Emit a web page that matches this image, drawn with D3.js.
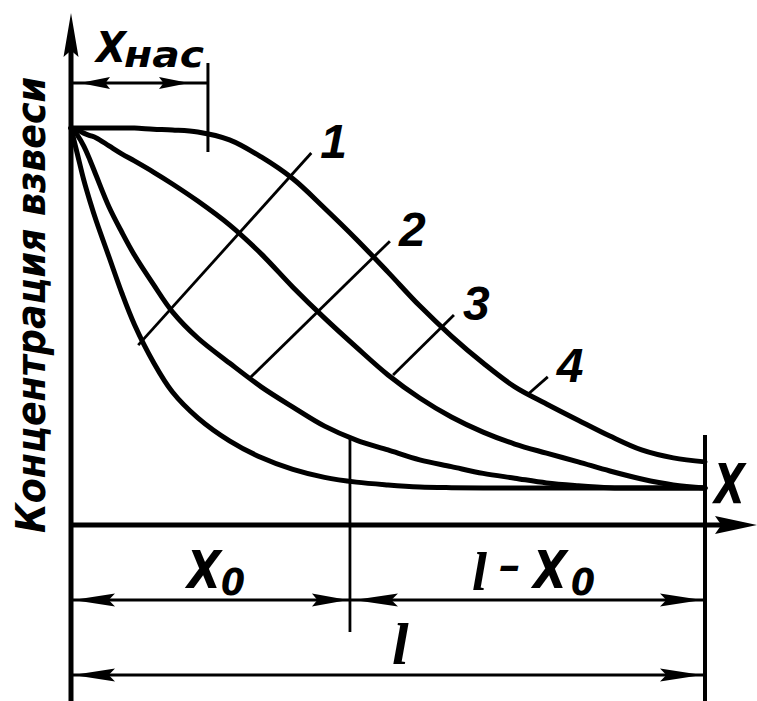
<!DOCTYPE html>
<html lang="ru">
<head>
<meta charset="UTF-8">
<title>Концентрация взвеси</title>
<script src="https://d3js.org/d3.v7.min.js"></script>
<style>
    body { margin: 0; background: #fff; }
    .lbl { font-family: "DejaVu Sans Condensed", "DejaVu Sans", sans-serif; font-weight: bold; font-style: oblique; fill: #000; }
    .num { font-family: "Liberation Sans", Arial, sans-serif; font-style: italic; fill: #000; }
    .ell { font-family: "Liberation Serif", serif; font-weight: bold; font-style: italic; fill: #000; }
</style>
</head>
<body>
<script>
    // x in % of l, concentration in % of the initial value
    const xGrid = [0, 1, 2, 3, 4, 6, 8, 10, 13, 16, 20, 25, 30, 35, 40, 45, 50, 55, 60, 65, 70, 75, 80, 85, 90, 95, 100];
    const concA = [100, 100, 100, 100, 100, 100, 100, 100, 99.7, 99.5, 99.0, 97.0, 92.7, 87.2, 79.8, 72.0, 63.7, 55.2, 47.6, 40.8, 34.8, 30.5, 26.4, 22.4, 18.9, 16.9, 15.9];
    const concB = [100, 99.5, 98.7, 98.1, 97.5, 95.5, 93.5, 91.7, 88.9, 85.9, 81.6, 75.6, 68.3, 59.9, 52.1, 44.8, 37.8, 32.0, 27.2, 23.4, 20.4, 18.1, 15.9, 13.6, 11.6, 10.1, 9.3];
    const concC = [100, 98.2, 95.5, 91.9, 87.9, 80.1, 73.8, 68.0, 60.6, 53.7, 47.1, 40.8, 34.8, 29.7, 24.9, 21.4, 18.9, 16.4, 14.7, 13.0, 11.8, 10.6, 9.9, 9.4, 9.3, 9.3, 9.3];
    const concD = [100, 93.5, 87.0, 81.5, 76.5, 67.5, 58.5, 50.5, 41.0, 33.5, 27.0, 21.2, 17.0, 14.0, 12.0, 10.8, 10.1, 9.6, 9.4, 9.3, 9.3, 9.3, 9.3, 9.3, 9.3, 9.3, 9.3];

    // cross lines 1..4  [x, conc]
    const crossLabels = ["1", "2", "3", "4"];
    const crossFrom = [[10.6, 45.3], [28.2, 37.0], [50.8, 37.8], [71.9, 32.7]];
    const crossTo = [[37.9, 93.7], [50.3, 71.5], [60.4, 52.9], [75.2, 37.3]];

    // dimensions
    const xSat = 21.6;
    const xZero = 44.0;
    const lLen = 100;

    const svg = d3.select("body").append("svg")
        .attr("width", 757)
        .attr("height", 701);

    svg.append("rect").attr("width", 757).attr("height", 701).attr("fill", "#fff");

    const xScale = d3.scaleLinear().domain([0, 100]).range([71, 705]);
    const yScale = d3.scaleLinear().domain([0, 100]).range([525, 128]);

    // filled arrow head, tip at (x,y), pointing along (dx,dy)
    function arrowHead(x, y, dx, dy, len, hw) {
        const bx = x - dx * len, by = y - dy * len;
        const px = -dy * hw, py = dx * hw;
        svg.append("path")
            .attr("d", `M${x},${y}L${bx + px},${by + py}L${bx + dx * len * 0.15},${by + dy * len * 0.15}L${bx - px},${by - py}Z`)
            .attr("fill", "#000");
    }

    function line(x1, y1, x2, y2, w) {
        svg.append("line")
            .attr("x1", x1).attr("y1", y1)
            .attr("x2", x2).attr("y2", y2)
            .attr("stroke", "#000")
            .attr("stroke-width", w);
    }

    function label(cls, x, y, size, txt, len) {
        const t = svg.append("text")
            .attr("class", cls)
            .attr("x", x)
            .attr("y", y)
            .attr("font-size", size)
            .text(txt);
        if (len) t.attr("textLength", len).attr("lengthAdjust", "spacingAndGlyphs");
        return t;
    }

    // axes
    const x0px = xScale(0), basePx = yScale(0);
    line(x0px, 701, x0px, 40, 5);
    arrowHead(x0px, 13, 0, -1, 44, 7.5);
    line(x0px, basePx, 725, basePx, 5);
    arrowHead(757, basePx, 1, 0, 42, 9);

    // curves
    const curveLine = d3.line()
        .x((d, i) => xScale(xGrid[i]))
        .y(d => yScale(d))
        .curve(d3.curveCatmullRom.alpha(0.5));

    [concA, concB, concC, concD].forEach(c => {
        svg.append("path")
            .attr("d", curveLine(c))
            .attr("fill", "none")
            .attr("stroke", "#000")
            .attr("stroke-width", 5)
            .attr("stroke-linecap", "round");
    });

    // cross lines with numbers
    crossLabels.forEach((lab, i) => {
        const a = crossFrom[i], b = crossTo[i];
        line(xScale(a[0]), yScale(a[1]), xScale(b[0]), yScale(b[1]), 2.8);
        label("num", xScale(b[0]) + 9, yScale(b[1]) + 5, 48, lab)
            .attr("font-weight", 600);
    });

    // value of a curve at x (linear between grid points)
    function concAt(c, x) {
        const i = d3.bisectRight(xGrid, x) - 1;
        const t = (x - xGrid[i]) / (xGrid[i + 1] - xGrid[i]);
        return c[i] + (c[i + 1] - c[i]) * t;
    }

    // X нас dimension
    const satPx = xScale(xSat);
    line(satPx, 63, satPx, 152, 3);
    line(x0px, 83, satPx, 83, 3);
    arrowHead(80, 83, -1, 0, 30, 6);
    arrowHead(189, 83, 1, 0, 30, 6);
    label("lbl", 96, 62, 42, "X", 30);
    label("lbl", 124, 67, 36, "нас", 80);

    // x0 and l - x0 dimension
    const zeroPx = xScale(xZero), lPx = xScale(lLen);
    line(zeroPx, yScale(concAt(concC, xZero)), zeroPx, 632, 2.8);
    line(lPx, 435, lPx, 701, 4);
    line(x0px, 600, lPx, 600, 3);
    arrowHead(x0px + 2, 600, -1, 0, 42, 6.5);
    arrowHead(zeroPx - 2, 600, 1, 0, 36, 6.5);
    arrowHead(zeroPx + 4, 600, -1, 0, 44, 6.5);
    arrowHead(lPx - 3, 600, 1, 0, 42, 6.5);

    label("lbl", 187, 588, 52, "X", 34);
    label("lbl", 221, 595, 38, "0", 24);

    label("ell", 472, 590, 54, "l");
    label("lbl", 499, 580, 40, "–", 22);
    label("lbl", 533, 588, 52, "X", 34);
    label("lbl", 571, 595, 38, "0", 24);

    // l dimension
    line(x0px, 675, lPx, 675, 3);
    arrowHead(x0px + 2, 675, -1, 0, 42, 6.5);
    arrowHead(lPx - 3, 675, 1, 0, 42, 6.5);
    label("ell", 392, 664, 60, "l");

    // axis labels
    label("lbl", 714, 503, 56, "X", 31);

    svg.append("text")
        .attr("class", "lbl")
        .attr("transform", "translate(45,533) rotate(-90)")
        .attr("font-size", 40)
        .attr("textLength", 456)
        .attr("lengthAdjust", "spacingAndGlyphs")
        .text("Концентрация взвеси");
</script>
</body>
</html>
